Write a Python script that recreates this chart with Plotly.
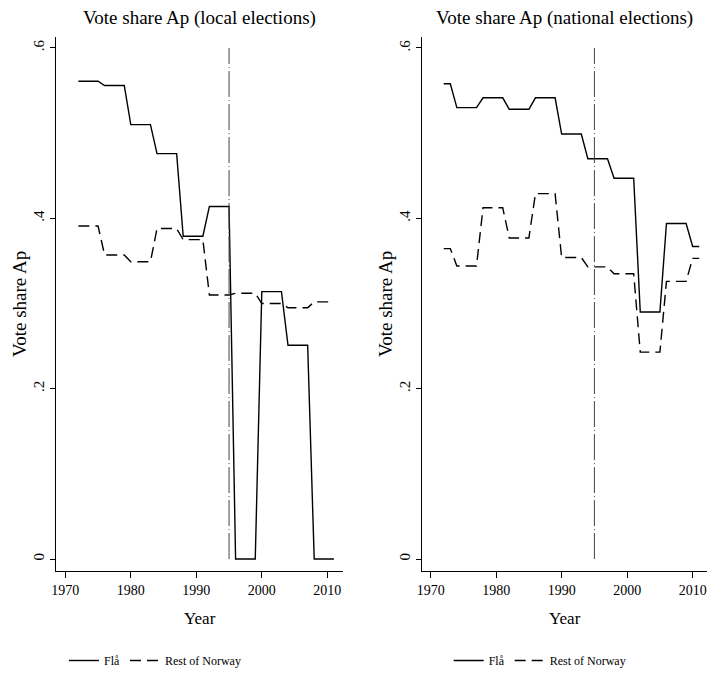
import plotly.graph_objects as go

years = list(range(1972, 2012))

# Local elections (left panel)
fla_local = [0.561, 0.561, 0.561, 0.561, 0.556, 0.556, 0.556, 0.556,
             0.510, 0.510, 0.510, 0.510, 0.476, 0.476, 0.476, 0.476,
             0.379, 0.379, 0.379, 0.379, 0.414, 0.414, 0.414, 0.414,
             0.0, 0.0, 0.0, 0.0, 0.314, 0.314, 0.314, 0.314,
             0.251, 0.251, 0.251, 0.251, 0.0, 0.0, 0.0, 0.0]
rest_local = [0.391, 0.391, 0.391, 0.391, 0.357, 0.357, 0.357, 0.357,
              0.349, 0.349, 0.349, 0.349, 0.388, 0.388, 0.388, 0.388,
              0.375, 0.375, 0.375, 0.375, 0.310, 0.310, 0.310, 0.310,
              0.312, 0.312, 0.312, 0.312, 0.300, 0.300, 0.300, 0.300,
              0.295, 0.295, 0.295, 0.295, 0.302, 0.302, 0.302, 0.302]

# National elections (right panel)
fla_national = [0.558, 0.558, 0.530, 0.530, 0.530, 0.530,
                0.5415, 0.5415, 0.5415, 0.5415, 0.528, 0.528, 0.528, 0.528,
                0.5415, 0.5415, 0.5415, 0.5415, 0.499, 0.499, 0.499, 0.499,
                0.470, 0.470, 0.470, 0.470, 0.447, 0.447, 0.447, 0.447,
                0.290, 0.290, 0.290, 0.290, 0.394, 0.394, 0.394, 0.394,
                0.367, 0.367]
rest_national = [0.3645, 0.3645, 0.344, 0.344, 0.344, 0.344,
                 0.4125, 0.4125, 0.4125, 0.4125, 0.377, 0.377, 0.377, 0.377,
                 0.429, 0.429, 0.429, 0.429, 0.354, 0.354, 0.354, 0.354,
                 0.343, 0.343, 0.343, 0.343, 0.335, 0.335, 0.335, 0.335,
                 0.243, 0.243, 0.243, 0.243, 0.326, 0.326, 0.326, 0.326,
                 0.353, 0.353]

reform_year = 1995
x_ticks = [1970, 1980, 1990, 2000, 2010]
y_ticks = [0, 0.2, 0.4, 0.6]
y_ticktext = ["0", ".2", ".4", ".6"]
panel_titles = ["Vote share Ap (local elections)", "Vote share Ap (national elections)"]
series_names = ["Flå", "Rest of Norway"]

FONT = "Liberation Serif, Times New Roman, serif"
DASH = "11px,6px"
VDASH = "26px,3px,1px,3px"

fig = go.Figure()
panels = [("x", "y", "legend", fla_local, rest_local),
          ("x2", "y2", "legend2", fla_national, rest_national)]
for xa, ya, lg, fla, rest in panels:
    fig.add_trace(go.Scatter(x=years, y=fla, mode="lines", name=series_names[0],
                             line=dict(color="black", width=1.4),
                             xaxis=xa, yaxis=ya, legend=lg))
    fig.add_trace(go.Scatter(x=years, y=rest, mode="lines", name=series_names[1],
                             line=dict(color="black", width=1.4, dash=DASH),
                             xaxis=xa, yaxis=ya, legend=lg))
    fig.add_shape(type="line", xref=xa, yref=ya, x0=reform_year, x1=reform_year,
                  y0=y_ticks[0], y1=y_ticks[-1],
                  line=dict(color="#444444", width=1, dash=VDASH))

xaxis_common = dict(tickvals=x_ticks, showline=True, linecolor="black", linewidth=1,
                    ticks="outside", ticklen=6, tickcolor="black", showgrid=False,
                    zeroline=False, tickfont=dict(family=FONT, size=14, color="black"))
yaxis_common = dict(tickvals=y_ticks, ticktext=y_ticktext, range=[-0.014, 0.6129],
                    showline=True, linecolor="black", linewidth=1,
                    ticks="outside", ticklen=5, tickcolor="black", showgrid=False,
                    zeroline=False, tickangle=-90,
                    tickfont=dict(family=FONT, size=15, color="black"))

fig.update_layout(
    width=707, height=675, autosize=False,
    margin=dict(l=56, r=0, t=37, b=102),
    paper_bgcolor="white", plot_bgcolor="white",
    font=dict(family=FONT, color="black"),
    xaxis=dict(domain=[0, 0.4409], range=[1968.58, 2012.40], **xaxis_common),
    xaxis2=dict(domain=[0.5617, 1.0], range=[1968.63, 2012.19], anchor="y2", **xaxis_common),
    yaxis=dict(anchor="x", **yaxis_common),
    yaxis2=dict(anchor="x2", **yaxis_common),
    legend=dict(orientation="h", x=0.152, xanchor="center", y=-0.1686, yanchor="middle",
                font=dict(family=FONT, size=12, color="black"), itemwidth=30,
                bgcolor="rgba(0,0,0,0)"),
    legend2=dict(orientation="h", x=0.743, xanchor="center", y=-0.1686, yanchor="middle",
                 font=dict(family=FONT, size=12, color="black"), itemwidth=30,
                 bgcolor="rgba(0,0,0,0)"),
)

annotations = []
for xr, title in zip(["x", "x2"], panel_titles):
    annotations.append(dict(text=title, xref=xr, x=1990.5, yref="paper", y=1.0355,
                            xanchor="center", yanchor="middle", showarrow=False,
                            font=dict(family=FONT, size=19, color="black")))
    annotations.append(dict(text="Year", xref=xr, x=1990.5, yref="paper", y=-0.0883,
                            xanchor="center", yanchor="middle", showarrow=False,
                            font=dict(family=FONT, size=17, color="black")))
for px in [-0.0568, 0.5054]:
    annotations.append(dict(text="Vote share Ap", xref="paper", x=px, yref="paper", y=0.5,
                            xanchor="center", yanchor="middle", textangle=-90,
                            showarrow=False,
                            font=dict(family=FONT, size=19, color="black")))
fig.update_layout(annotations=annotations)

fig.write_html("out.html", config={"displayModeBar": False},
               post_script="document.body.style.margin='0';")
